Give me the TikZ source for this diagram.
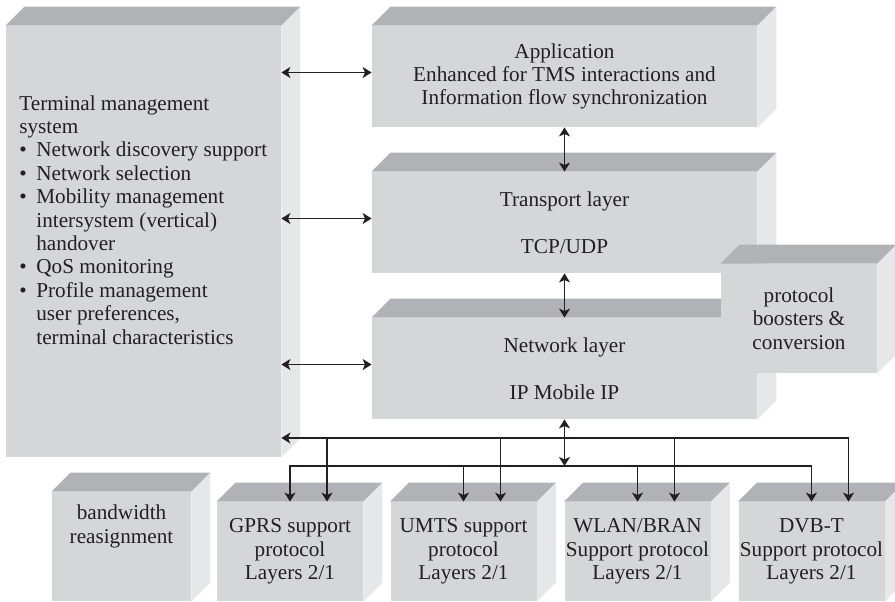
\documentclass[tikz,border=0pt]{standalone}
\usepackage{fontspec}
\setmainfont{Liberation Serif}
\usepackage{tikz}
\usepackage{xcolor}
\usetikzlibrary{arrows.meta}

\definecolor{frontgray}{RGB}{213,214,216}
\definecolor{topgray}{RGB}{177,178,181}
\definecolor{sidegray}{RGB}{230,231,233}
\definecolor{inkgray}{RGB}{35,31,32}

\tikzset{
  cube/.style={fill=frontgray, inner sep=0pt, align=center, text=inkgray,
    append after command={\pgfextra{
      \fill[topgray] (\tikzlastnode.north west) -- ++(9.5pt,9.5pt)
        -- ([shift={(9.5pt,9.5pt)}]\tikzlastnode.north east) -- (\tikzlastnode.north east) -- cycle;
      \fill[sidegray] (\tikzlastnode.north east) -- ++(9.5pt,9.5pt)
        -- ([shift={(9.5pt,9.5pt)}]\tikzlastnode.south east) -- (\tikzlastnode.south east) -- cycle;
    }}},
  layerbox/.style={cube, minimum width=192.5pt, minimum height=50.5pt},
  linkbox/.style={cube, minimum width=73pt, minimum height=49.5pt},
  link/.style={line width=0.75pt, draw=inkgray}
}

\begin{document}
\begin{tikzpicture}[x=0.5pt,y=-0.5pt,
  every node/.style={font=\fontsize{10.6}{11.7}\selectfont},
  >={Stealth[length=4.5pt,width=5.5pt,inset=1.2pt]}]

    \useasboundingbox (0,0) rectangle (895,601);

    \def\tmsbullet{\makebox[8.5pt][l]{\textbullet}}
    \def\tmsindent{\hspace*{8.5pt}}

    % Draw the terminal management box
    \node[cube, minimum width=137.5pt, minimum height=215.5pt] (tms) at (143.5,241.5) {};
    \node[anchor=north west, align=left, inner sep=0pt, text=inkgray] (tmstext) at (19,95)
      {Terminal management\\system\\
       \tmsbullet Network discovery support\\
       \tmsbullet Network selection\\
       \tmsbullet Mobility management\\
       \tmsindent intersystem (vertical)\\
       \tmsindent handover\\
       \tmsbullet QoS monitoring\\
       \tmsbullet Profile management\\
       \tmsindent user preferences,\\
       \tmsindent terminal characteristics};

    % Draw the protocol stack
    \node[layerbox] (app) at (564.5,76.5)
      {Application\\Enhanced for TMS interactions and\\Information flow synchronization};
    \node[layerbox] (trans) at (564.5,222.5) {Transport layer\\[11.7pt]TCP/UDP};
    \node[layerbox] (net) at (564.5,368.5) {Network layer\\[11.7pt]IP Mobile IP};
    \node[cube, minimum width=78pt, minimum height=54.5pt] (boost) at (799,318.5)
      {protocol\\boosters \&\\conversion};

    % Draw the access network boxes
    \node[cube, minimum width=69.5pt, minimum height=54.5pt] (bw) at (121.5,546.5) {};
    \node[align=center, text=inkgray] (bwtext) at ([yshift=10pt]bw.center) {bandwidth\\reasignment};
    \node[linkbox] (gprs) at (290,551.5) {GPRS support\\protocol\\Layers 2/1};
    \node[linkbox] (umts) at (463.5,551.5) {UMTS support\\protocol\\Layers 2/1};
    \node[linkbox] (wlan) at (637.5,551.5) {WLAN/BRAN\\Support protocol\\Layers 2/1};
    \node[linkbox] (dvb) at (811.5,551.5) {DVB-T\\Support protocol\\Layers 2/1};

    % Arrows between the TMS and the layers
    \foreach \n in {app,trans,net}
      \draw[link,<->] ([yshift=2pt]\n.west) -- ([yshift=2pt]\n.west -| tms.east);
    \draw[link,<->] (app.south) -- (trans.north);
    \draw[link,<->] (trans.south) -- (net.north);

    % The two buses down to the access networks
    \coordinate (upbus) at (0,438);
    \coordinate (lowbus) at (0,466);
    \foreach \b in {gprs,umts,wlan,dvb}
      \coordinate (u\b) at ([xshift=18.5pt]\b.north);

    \draw[link,<->] (tms.east |- upbus) -| (udvb);
    \foreach \b in {gprs,umts,wlan}
      \draw[link,->] (u\b |- upbus) -- (u\b);

    \draw[link,<->] (gprs.north) |- (lowbus -| dvb.north) -- (dvb.north);
    \foreach \b in {umts,wlan}
      \draw[link,->] (\b.north |- lowbus) -- (\b.north);
    \draw[link,<->] (net.south) -- (net.south |- lowbus);

\end{tikzpicture}
\end{document}
